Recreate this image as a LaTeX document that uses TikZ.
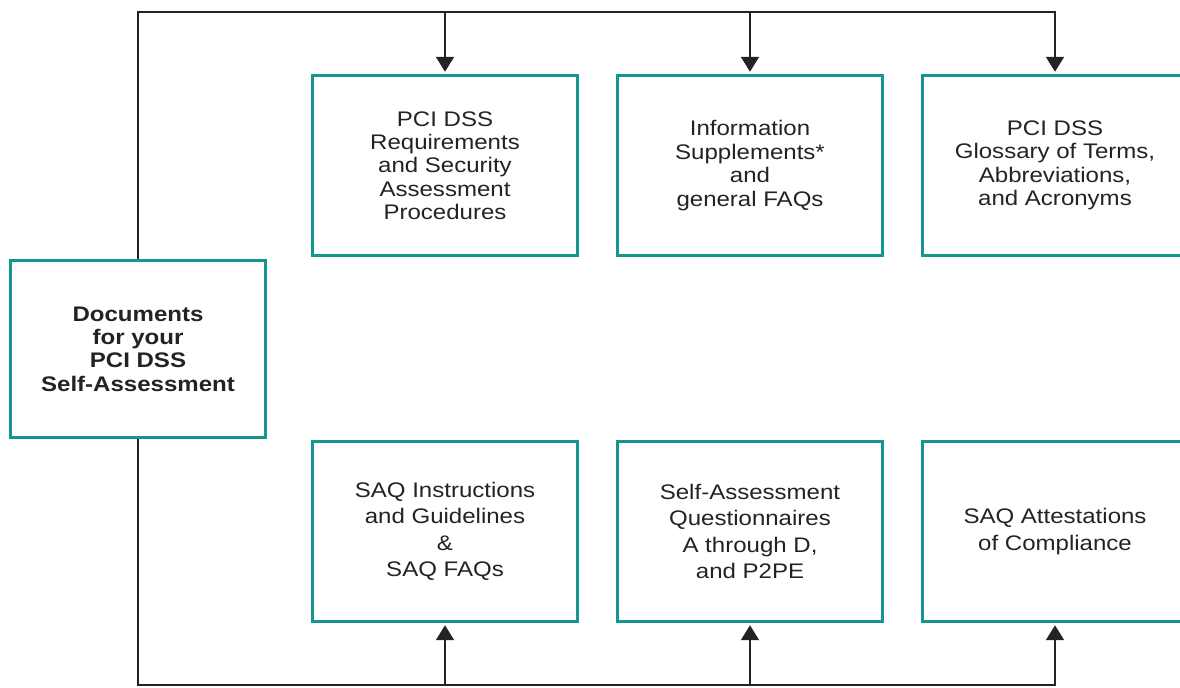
\documentclass[tikz,border=0pt]{standalone}
\usepackage{fontspec}
\setmainfont[FakeStretch=1.14]{Liberation Sans}
\usepackage{tikz}
\usetikzlibrary{arrows.meta, positioning, calc}
\definecolor{boxcolor}{RGB}{22,150,145}
\definecolor{inkcolor}{RGB}{35,35,35}

\begin{document}
\begin{tikzpicture}[
    x=0.02cm, y=-0.02cm,
    box/.style={draw=boxcolor, line width=1.7pt, text=inkcolor, minimum width=5.32cm, minimum height=3.62cm, align=center, inner sep=0pt, font=\fontsize{12}{13.3}\selectfont},
    lowbox/.style={box, font=\fontsize{12}{15}\selectfont},
    link/.style={draw=inkcolor, line width=1.1pt, line join=miter},
    arrow/.style={link, -{Triangle[length=0.3cm, width=0.36cm]}, shorten >=1pt}
]
    \clip (0,0) rectangle (1180,687);
    \fill[white] (0,0) rectangle (1180,687);

    % Main document box
    \node[box, minimum width=5.12cm, minimum height=3.56cm, font=\fontsize{12}{13.3}\selectfont\bfseries] (docs) at (138,349) {Documents\\for your\\PCI DSS\\Self-Assessment};

    % Top row
    \node[box] (req) at (445,165.5) {PCI DSS\\Requirements\\and Security\\Assessment\\Procedures};
    \node[box] (info) at (750,165.5) {Information\\Supplements*\\and\\general FAQs};
    \node[box] (gloss) at (1055,165.5) {PCI DSS\\Glossary of Terms,\\Abbreviations,\\and Acronyms};

    % Bottom row
    \node[lowbox] (instr) at (445,531.5) {SAQ Instructions\\and Guidelines\\\&\\SAQ FAQs};
    \node[lowbox] (saq) at (750,531.5) {Self-Assessment\\Questionnaires\\A through D,\\and P2PE};
    \node[lowbox] (attest) at (1055,531.5) {SAQ Attestations\\of Compliance};

    % Bus lines
    \coordinate (ytop) at (0,12);
    \coordinate (ybot) at (0,685);

    % Arrows to the top row
    \draw[arrow] (docs.north) |- (gloss.north |- ytop) -- (gloss.north);
    \draw[arrow] (req.north |- ytop) -- (req.north);
    \draw[arrow] (info.north |- ytop) -- (info.north);

    % Arrows to the bottom row
    \draw[arrow] (docs.south) |- (attest.south |- ybot) -- (attest.south);
    \draw[arrow] (instr.south |- ybot) -- (instr.south);
    \draw[arrow] (saq.south |- ybot) -- (saq.south);
\end{tikzpicture}
\end{document}
